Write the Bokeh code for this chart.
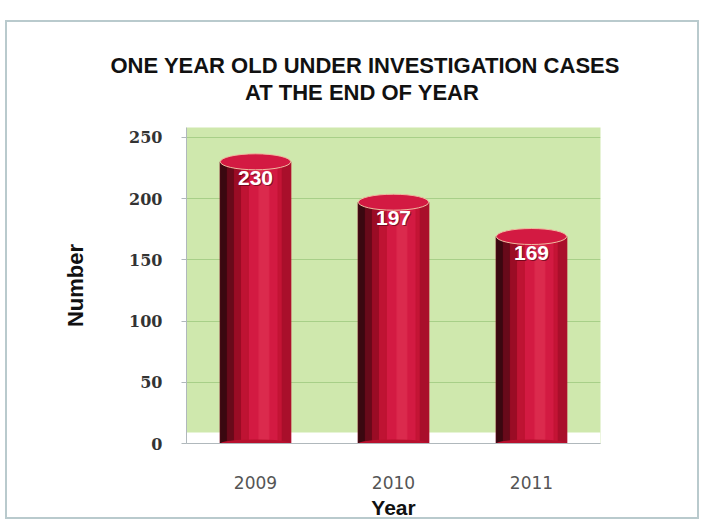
from bokeh.plotting import figure
from bokeh.models import ColumnDataSource, BoxAnnotation, FixedTicker, Range1d
from bokeh.transform import dodge
from bokeh.core.properties import value
from bokeh.embed import file_html
from bokeh.resources import INLINE

# ---- data ----
years = ["2009", "2010", "2011"]
cases = [230, 197, 169]
case_labels = [str(v) for v in cases]
y_ticks = [0, 50, 100, 150, 200, 250]
title_lines = ["ONE YEAR OLD UNDER INVESTIGATION CASES", "AT THE END OF YEAR"]
x_title = "Year"
y_title = "Number"

src = ColumnDataSource(dict(year=years, value=cases, label=case_labels))

W, H = 694, 499
p = figure(x_range=years, y_range=Range1d(0, 258), width=W, height=H,
           output_backend="svg", toolbar_location=None,
           min_border_left=179, min_border_right=101,
           min_border_top=105, min_border_bottom=78)
p.styles = {"margin-top": "20px", "margin-left": "5px", "border": "2px solid #b9cacd"}
p.outline_line_color = None
p.background_fill_color = "#cfe8ad"
p.border_fill_color = "white"

# title: two lines; the second is centred under the first with no-break spaces
p.title.text = title_lines[0] + "\n" + "\u00a0" * 22 + title_lines[1]
p.title.align = "left"
p.title.offset = -76
p.title.standoff = 46
p.title.text_font = "Liberation Sans"
p.title.text_font_style = "bold"
p.title.text_font_size = "22px"
p.title.text_color = "#111111"
p.title.text_line_height = 1.05

# grid
p.xgrid.grid_line_color = None
p.ygrid.grid_line_color = "#a8cf88"
p.ygrid.grid_line_width = 1
p.yaxis.ticker = FixedTicker(ticks=y_ticks)

# floor strip (3D base)
p.add_layout(BoxAnnotation(bottom=0, top=9, fill_color="white", fill_alpha=1,
                           line_color=None, level="underlay"))

# cylinders
BW = 0.51
p.vbar(x="year", top="value", width=BW, source=src, color="#d31a42")
strips = [(-0.45, 0.10, "#3a0810"), (-0.35, 0.10, "#680a1a"),
          (-0.25, 0.10, "#9a0c25"), (-0.15, 0.10, "#bf1333"),
          (0.12, 0.14, "#db2a4d"), (0.35, 0.06, "#c41435"), (0.44, 0.12, "#a90f2b")]
for off, w, c in strips:
    p.vbar(x=dodge("year", off * BW, range=p.x_range), top="value",
           width=w * BW, source=src, color=c)
# bottom rounding
p.ellipse(x="year", y=0, width=BW, height=8, height_units="screen",
          source=src, fill_color="#b8102e", line_color=None)
# top cap
p.ellipse(x="year", y="value", width=BW, height=16, height_units="screen",
          source=src, fill_color="#d31a42", line_color="#eebba0", line_width=1)

# value labels
p.text(x="year", y="value", text="label", source=src, y_offset=17, x_offset=1,
       text_align="center", text_baseline="middle", text_color="#4a0010",
       text_alpha=0.6, text_font=value("Liberation Sans"), text_font_style="bold",
       text_font_size="21px")
p.text(x="year", y="value", text="label", source=src, y_offset=16,
       text_align="center", text_baseline="middle", text_color="white",
       text_font=value("Liberation Sans"), text_font_style="bold",
       text_font_size="21px")

# x boundary ticks
p.segment(x0=[0, 1, 2, 3], y0=[0, 0, 0, 0], x1=[0, 1, 2, 3], y1=[-4, -4, -4, -4],
          line_color="#b0b8bc", line_width=1)

# axes
p.xaxis.axis_line_color = "#b0b8bc"
p.yaxis.axis_line_color = "#b0b8bc"
p.xaxis.major_tick_line_color = None
p.xaxis.minor_tick_line_color = None
p.yaxis.minor_tick_line_color = None
p.yaxis.major_tick_line_color = "#b0b8bc"
p.yaxis.major_tick_out = 5
p.yaxis.major_tick_in = 0
p.yaxis.major_label_standoff = 19
p.yaxis.major_label_text_font = "DejaVu Serif"
p.yaxis.major_label_text_font_style = "bold"
p.yaxis.major_label_text_font_size = "16px"
p.yaxis.major_label_text_color = "#333333"
p.yaxis.axis_label = y_title
p.yaxis.axis_label_text_font = "Liberation Sans"
p.yaxis.axis_label_text_font_style = "bold"
p.yaxis.axis_label_text_font_size = "22px"
p.yaxis.axis_label_text_color = "#111111"
p.yaxis.axis_label_standoff = 38

p.xaxis.major_label_standoff = 26
p.xaxis.major_label_text_font = "DejaVu Sans"
p.xaxis.major_label_text_font_size = "17px"
p.xaxis.major_label_text_color = "#555555"
p.xaxis.axis_label = x_title
p.xaxis.axis_label_text_font = "Liberation Sans"
p.xaxis.axis_label_text_font_style = "bold"
p.xaxis.axis_label_text_font_size = "21px"
p.xaxis.axis_label_text_color = "#111111"
p.xaxis.axis_label_standoff = 4

open("out.html", "w").write(file_html(p, INLINE))
